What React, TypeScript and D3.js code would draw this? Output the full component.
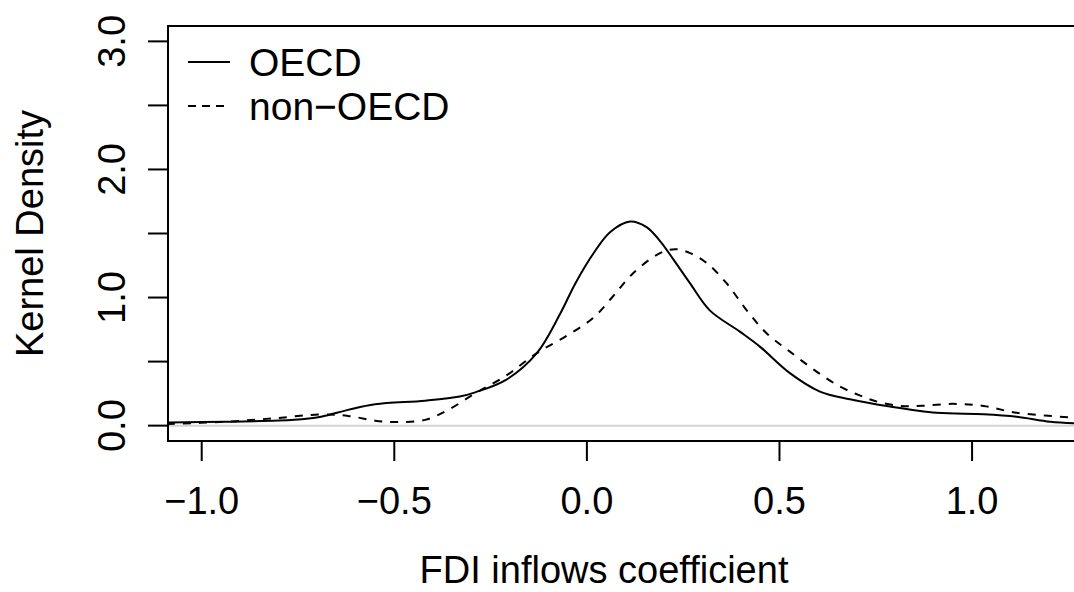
import React from 'react';
import * as d3 from 'd3';

// kernel density estimates
const oecdX = [-1.09, -0.94, -0.76, -0.69, -0.62, -0.55, -0.42, -0.33, -0.29, -0.21, -0.13, -0.07, -0.03, 0.016, 0.06, 0.112, 0.155, 0.19, 0.224, 0.268, 0.319, 0.397, 0.449, 0.527, 0.605, 0.683, 0.787, 0.908, 1.03, 1.116, 1.203, 1.28];
const oecdY = [0.025, 0.031, 0.045, 0.07, 0.123, 0.167, 0.195, 0.227, 0.26, 0.357, 0.566, 0.87, 1.11, 1.34, 1.51, 1.594, 1.55, 1.44, 1.3, 1.11, 0.9, 0.734, 0.617, 0.41, 0.266, 0.206, 0.149, 0.1, 0.089, 0.07, 0.031, 0.017];

const nonOecdX = [-1.09, -0.94, -0.81, -0.69, -0.62, -0.55, -0.49, -0.42, -0.36, -0.29, -0.21, -0.13, -0.053, 0.016, 0.068, 0.12, 0.19, 0.23, 0.268, 0.311, 0.363, 0.415, 0.467, 0.527, 0.597, 0.657, 0.705, 0.75, 0.813, 0.87, 0.95, 1.03, 1.116, 1.28];
const nonOecdY = [0.013, 0.03, 0.058, 0.087, 0.076, 0.039, 0.028, 0.045, 0.123, 0.252, 0.39, 0.566, 0.7, 0.84, 1.01, 1.19, 1.347, 1.378, 1.347, 1.27, 1.11, 0.9, 0.72, 0.578, 0.42, 0.305, 0.24, 0.19, 0.154, 0.155, 0.17, 0.154, 0.1, 0.06];

const xTicks = [-1.0, -0.5, 0.0, 0.5, 1.0];
const xTickLabels = ['\u22121.0', '\u22120.5', '0.0', '0.5', '1.0'];
const yTicks = [0, 0.5, 1, 1.5, 2, 2.5, 3];
const yTickLabels = ['0.0', '', '1.0', '', '2.0', '', '3.0'];
const legendLabels = ['OECD', 'non\u2212OECD'];

const W = 1074;
const H = 592;
const font = 'Liberation Sans, Arial, Helvetica, sans-serif';
const fs = 38;

export default function App() {
  const x = d3.scaleLinear().domain([-1.0875, 1.275]).range([168, 1078]);
  const y = d3.scaleLinear().domain([-0.12, 3.12]).range([441, 26]);

  const line = d3
    .line<[number, number]>()
    .x((d) => x(d[0]))
    .y((d) => y(d[1]))
    .curve(d3.curveCatmullRom.alpha(0.5));

  const oecd = oecdX.map((v, i) => [v, oecdY[i]] as [number, number]);
  const nonOecd = nonOecdX.map((v, i) => [v, nonOecdY[i]] as [number, number]);

  const [x0, x1] = x.range();
  const [y0, y1] = y.range();

  return (
    <svg
      width={W}
      height={H}
      style={{ position: 'absolute', left: 0, top: 0, background: '#fff' }}
      fontFamily={font}
    >
      <defs>
        <clipPath id="plot-clip">
          <rect x={x0} y={y1} width={x1 - x0} height={y0 - y1} />
        </clipPath>
      </defs>

      <g clipPath="url(#plot-clip)">
        <line x1={x0} x2={x1} y1={y(0)} y2={y(0)} stroke="#d3d3d3" strokeWidth={2} />
        <path d={line(oecd) || ''} fill="none" stroke="#000" strokeWidth={2} />
        <path d={line(nonOecd) || ''} fill="none" stroke="#000" strokeWidth={2} strokeDasharray="8,8" />
      </g>

      {/* box */}
      <rect x={x0} y={y1} width={x1 - x0} height={y0 - y1} fill="none" stroke="#000" strokeWidth={2} />

      {/* x axis */}
      {xTicks.map((t, i) => (
        <g key={'x' + i}>
          <line x1={x(t)} x2={x(t)} y1={y0} y2={y0 + 20} stroke="#000" strokeWidth={2} />
          <text x={x(t)} y={514} textAnchor="middle" fontSize={fs}>
            {xTickLabels[i]}
          </text>
        </g>
      ))}

      {/* y axis */}
      {yTicks.map((t, i) => (
        <g key={'y' + i}>
          <line x1={x0 - 20} x2={x0} y1={y(t)} y2={y(t)} stroke="#000" strokeWidth={2} />
          {yTickLabels[i] && (
            <text transform={`translate(125, ${y(t)}) rotate(-90)`} textAnchor="middle" fontSize={fs}>
              {yTickLabels[i]}
            </text>
          )}
        </g>
      ))}

      <text x={604} y={583} textAnchor="middle" fontSize={fs}>
        FDI inflows coefficient
      </text>
      <text transform={`translate(43, ${(y0 + y1) / 2}) rotate(-90)`} textAnchor="middle" fontSize={fs}>
        Kernel Density
      </text>

      {/* legend */}
      {legendLabels.map((lab, i) => (
        <g key={lab} transform={`translate(0, ${62 + i * 44})`}>
          <line
            x1={188}
            x2={230}
            y1={0}
            y2={0}
            stroke="#000"
            strokeWidth={2}
            strokeDasharray={i === 1 ? '8,6' : undefined}
          />
          <text x={249} y={14} fontSize={39}>
            {lab}
          </text>
        </g>
      ))}
    </svg>
  );
}
